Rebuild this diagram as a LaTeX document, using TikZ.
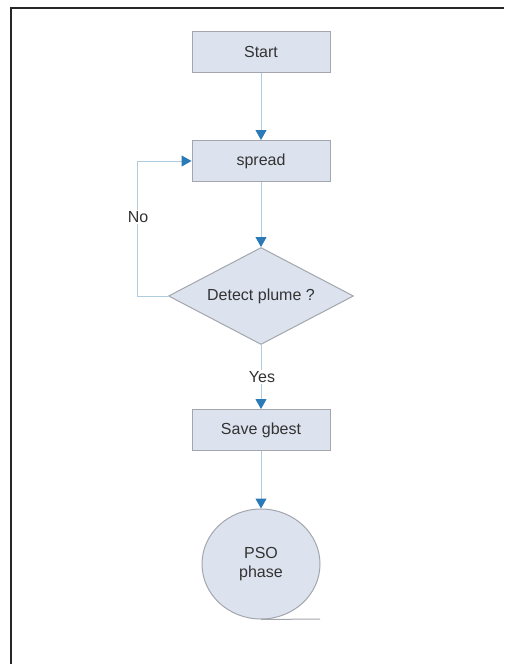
\documentclass[tikz,border=0pt]{standalone}
\usepackage{fontspec}
\setmainfont{Liberation Sans}
\usetikzlibrary{shapes.geometric,arrows.meta}
\definecolor{boxfill}{HTML}{DCE3EE}
\definecolor{boxline}{HTML}{A3A7AD}
\definecolor{conn}{HTML}{AFCBE0}
\definecolor{tip}{HTML}{2A7AB8}
\definecolor{txt}{HTML}{333333}
\tikzset{
  stepbox/.style={rectangle, draw=boxline, fill=boxfill, line width=1pt, minimum width=138pt, minimum height=41pt, inner sep=0pt, text=txt, font=\fontsize{16pt}{19pt}\selectfont},
  decide/.style={diamond, draw=boxline, fill=boxfill, line width=1pt, aspect=1.9, minimum width=185pt, minimum height=97pt, inner sep=0pt, text=txt, font=\fontsize{16pt}{19pt}\selectfont},
  endnode/.style={ellipse, draw=boxline, fill=boxfill, line width=1pt, minimum width=118pt, minimum height=110pt, inner sep=0pt, align=center, text=txt, font=\fontsize{16pt}{19pt}\selectfont},
  lbl/.style={fill=white, inner sep=1.5pt, text=txt, font=\fontsize{16pt}{19pt}\selectfont},
  conn/.style={draw=conn, line width=1pt, -{Triangle[width=11pt,length=10pt,color=tip]}},
  plain/.style={draw=conn, line width=1pt}
}
\begin{document}
\begin{tikzpicture}[x=1pt,y=-1pt]
\useasboundingbox (0,0) rectangle (504,664);
\fill[white] (0,0) rectangle (504,664);
\draw[line width=2.5pt, black!85] (11,664) -- (11,8) -- (504,8);
\node[stepbox] (start) at (261,51.5) {Start};
\node[stepbox] (spread) at (261,161) {spread};
\node[decide] (detect) at (261,296) {Detect plume ?};
\node[stepbox] (save) at (261,430) {Save gbest};
\node[endnode] (pso) at (261,564) {PSO\\phase};
\coordinate (loopb) at (137,296);
\coordinate (loopt) at (137,161);
\draw[conn] (start) -- (spread);
\draw[conn] (spread) -- (detect);
\draw[conn] (detect.west) -- (loopb) -- (loopt) -- (spread.west);
\draw[conn] (detect) -- (save);
\draw[conn] (save) -- (pso);
\node[lbl] (no) at (138,217) {No};
\node[lbl] (yes) at (262,377) {Yes};
\coordinate (shadowend) at (320,619);
\draw[boxline, line width=1pt] (pso.south) -- (shadowend);
\end{tikzpicture}
\end{document}
